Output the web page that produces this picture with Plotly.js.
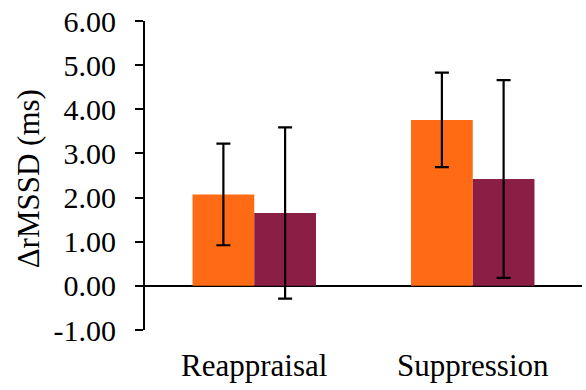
<!DOCTYPE html>
<html><head><meta charset="utf-8">
<script src="https://cdn.plot.ly/plotly-3.0.1.min.js"></script>
<style>html,body{margin:0;padding:0;background:#fff}#chart{width:586px;height:390px}</style>
</head><body><div id="chart"></div>
<script>
const categories = ["Reappraisal", "Suppression"];
const seriesA = [2.07, 3.76];
const errorA = [1.15, 1.07];
const seriesB = [1.65, 2.42];
const errorB = [1.94, 2.24];
const yTickVals = [-1, 0, 1, 2, 3, 4, 5, 6];
const yTickText = ["-1.00", "0.00", "1.00", "2.00", "3.00", "4.00", "5.00", "6.00"];
const yTitle = "ΔrMSSD (ms)";

function mkFont(s) { return {family: "'Liberation Serif', 'Times New Roman', serif", size: s, color: "#000000"}; }
function mkErr(arr) { return {type: "data", array: arr, visible: true, color: "#000000", thickness: 2.2, width: 7}; }

const traces = [
  {type: "bar", x: categories, y: seriesA, marker: {color: "#FF6A14"},
   error_y: mkErr(errorA), hoverinfo: "skip"},
  {type: "bar", x: categories, y: seriesB, marker: {color: "#8A1E45"},
   error_y: mkErr(errorB), hoverinfo: "skip"}
];

const layout = {
  width: 586, height: 390,
  margin: {l: 145, r: 4, t: 21, b: 60, pad: 0},
  paper_bgcolor: "#ffffff", plot_bgcolor: "#ffffff",
  showlegend: false,
  barmode: "group", bargap: 0.435, bargroupgap: 0,
  font: mkFont(30),
  xaxis: {type: "category", range: [-0.5, 1.5], showgrid: false, zeroline: false,
          showline: false, ticks: "", tickfont: mkFont(31), ticklabelstandoff: 14},
  yaxis: {range: [-1, 6], tickvals: yTickVals, ticktext: yTickText, showgrid: false,
          zeroline: true, zerolinecolor: "#000000", zerolinewidth: 2,
          showline: true, linecolor: "#000000", linewidth: 2,
          ticks: "outside", ticklen: 8, tickwidth: 2, tickcolor: "#000000",
          tickfont: mkFont(30), ticklabelstandoff: 13},
  annotations: [{text: yTitle, xref: "paper", yref: "paper", x: -0.266, y: 0.49,
                 xanchor: "center", yanchor: "middle", textangle: -90, showarrow: false,
                 font: mkFont(31)}]
};

Plotly.newPlot("chart", traces, layout, {staticPlot: true, displayModeBar: false});
</script></body></html>
